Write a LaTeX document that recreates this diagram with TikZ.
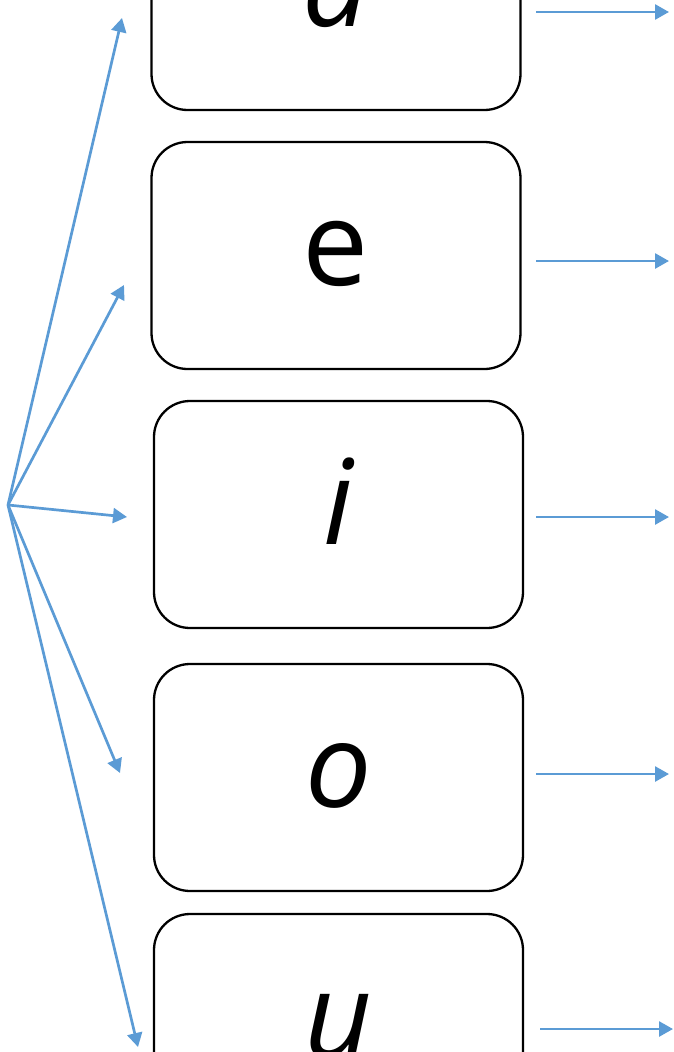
\documentclass[tikz,border=0pt]{standalone}
\usepackage{fontspec}
\setmainfont{Open Sans}
\usetikzlibrary{arrows.meta}
\definecolor{arrowblue}{HTML}{5B9BD5}
\tikzset{
  vbox/.style={draw=black, line width=2.3pt, rounded corners=36pt, minimum width=369pt, minimum height=227pt,
    inner sep=0pt, text height=60pt, text depth=0pt, font=\fontsize{118}{118}\selectfont},
  conn/.style={draw=arrowblue, line width=2.7pt, -{Triangle[length=14pt,width=15pt]}}
}
\begin{document}
\begin{tikzpicture}[x=1pt,y=1pt]
\useasboundingbox (0,0) rectangle (673,-1052);
\node[vbox] (A) at (336,3.5) {\itshape a};
\node[vbox] (E) at (336,-255.5) {e};
\node[vbox] (I) at (338.5,-514.5) {\itshape i};
\node[vbox] (O) at (338.5,-777.5) {\itshape o};
\node[vbox] (U) at (338.5,-1027.5) {\itshape u};
\coordinate (src) at (8,-505);
\coordinate (la) at (122,-18);
\coordinate (le) at (124,-285);
\coordinate (li) at (127,-517);
\coordinate (lo) at (120,-773);
\coordinate (lu) at (138,-1047);
\draw[conn] (src) -- (la);
\draw[conn] (src) -- (le);
\draw[conn] (src) -- (li);
\draw[conn] (src) -- (lo);
\draw[conn] (src) -- (lu);
\coordinate (ra1) at (536,-12);   \coordinate (ra2) at (669,-12);
\coordinate (re1) at (536,-261);  \coordinate (re2) at (669,-261);
\coordinate (ri1) at (536,-517);  \coordinate (ri2) at (669,-517);
\coordinate (ro1) at (536,-774);  \coordinate (ro2) at (669,-774);
\coordinate (ru1) at (540,-1029); \coordinate (ru2) at (673,-1029);
\draw[conn] (ra1) -- (ra2);
\draw[conn] (re1) -- (re2);
\draw[conn] (ri1) -- (ri2);
\draw[conn] (ro1) -- (ro2);
\draw[conn] (ru1) -- (ru2);
\end{tikzpicture}
\end{document}
